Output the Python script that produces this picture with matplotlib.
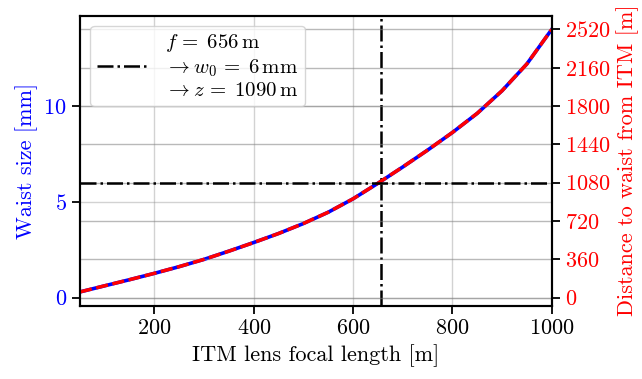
import matplotlib
matplotlib.use("Agg")
import matplotlib.pyplot as plt

plt.rcParams['font.family'] = 'serif'
plt.rcParams['font.serif'] = ['cmr10']
plt.rcParams['mathtext.fontset'] = 'cm'
plt.rcParams['axes.unicode_minus'] = False
plt.rcParams['axes.formatter.use_mathtext'] = True

# ITM lens focal length [m]
focal = [50, 100, 150, 200, 250, 300, 350, 400, 450, 500,
         550, 600, 650, 700, 750, 800, 850, 900, 950, 1000]
# waist size [mm]
waist = [0.30, 0.62, 0.94, 1.27, 1.62, 2.00, 2.43, 2.88, 3.35, 3.87,
         4.46, 5.16, 5.97, 6.82, 7.70, 8.62, 9.62, 10.80, 12.20, 14.00]
# distance to waist from ITM [m]
dist = [54, 112, 169, 229, 292, 360, 437, 518, 603, 697,
        803, 929, 1075, 1228, 1386, 1552, 1732, 1944, 2196, 2520]

f_sel = 656
w_sel = 6
z_sel = 1090
z_line = 1080  # horizontal marker drawn at the 6 mm level
dist_ticks = [0, 360, 720, 1080, 1440, 1800, 2160, 2520]

fig = plt.figure(figsize=(6.42, 3.79), dpi=100)
ax1 = fig.add_axes([0.1246, 0.1934, 0.7347, 0.7652])
ax2 = ax1.twinx()

ax1.plot(focal, waist, color='blue', lw=2.6)
ax2.plot(focal, dist, color='red', lw=2.5, ls='--', dashes=(3.5, 1.3))

ax1.axvline(f_sel, color='black', lw=1.8, ls='-.',
            label=f'$f\\,=\\;{f_sel}\\,\\mathrm{{m}}$\n'
                  f'$\\rightarrow w_0\\,=\\;{w_sel}\\,\\mathrm{{mm}}$\n'
                  f'$\\rightarrow z\\,=\\;{z_sel}\\,\\mathrm{{m}}$')
ax2.axhline(z_line, color='black', lw=1.8, ls='-.')

ax1.set_xlim(50, 1000)
ax1.set_ylim(-0.42, 14.72)
ax2.set_ylim(-0.42 * 180, 14.72 * 180)
ax2.set_yticks(dist_ticks)
ax1.set_yticks([0, 5, 10])

ax1.grid(color='gray', alpha=0.35, lw=1)
ax2.grid(axis='y', color='gray', alpha=0.55, lw=1)
ax2.set_axisbelow(True)

ax1.set_xlabel('ITM lens focal length [m]', fontsize=16)
ax1.set_ylabel('Waist size [mm]', color='blue', fontsize=16)
ax2.set_ylabel('Distance to waist from ITM [m]', color='red', fontsize=16)

ax1.tick_params(axis='both', labelsize=16, width=1.3, length=6)
ax1.tick_params(axis='y', labelcolor='blue')
ax2.tick_params(axis='y', labelsize=16, labelcolor='red', width=1.3, length=6)
for ax in (ax1, ax2):
    for s in ax.spines.values():
        s.set_linewidth(1.5)

h, l = ax1.get_legend_handles_labels()
ax2.legend(h, l, loc='upper left', fontsize=15, handlelength=2.5,
           borderpad=0.3)

fig.savefig('out.png', dpi=100)
